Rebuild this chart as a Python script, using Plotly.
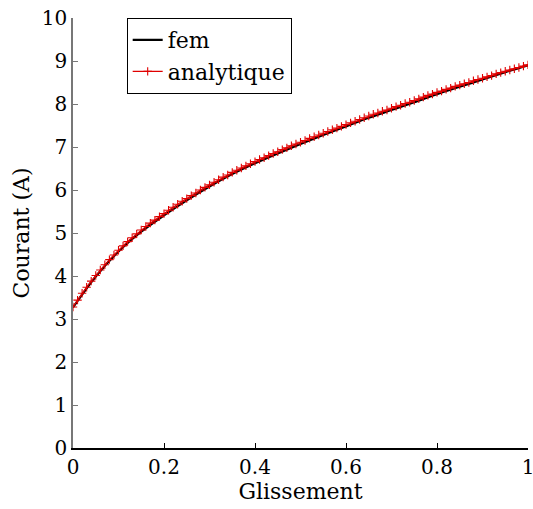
import plotly.graph_objects as go

# Analytique series (x step 0.01)
x_ana = [i / 100 for i in range(101)]
y_ana = [3.28, 3.44, 3.60, 3.74, 3.88, 4.01, 4.14, 4.26, 4.38, 4.49,
         4.60, 4.70, 4.80, 4.89, 4.98, 5.07, 5.15, 5.23, 5.30, 5.38,
         5.45, 5.53, 5.60, 5.67, 5.74, 5.80, 5.87, 5.93, 6.00, 6.06,
         6.12, 6.18, 6.24, 6.30, 6.35, 6.41, 6.46, 6.51, 6.56, 6.61,
         6.66, 6.71, 6.75, 6.80, 6.85, 6.89, 6.94, 6.98, 7.03, 7.07,
         7.11, 7.15, 7.20, 7.24, 7.28, 7.32, 7.36, 7.40, 7.44, 7.48,
         7.52, 7.56, 7.60, 7.64, 7.68, 7.72, 7.76, 7.79, 7.83, 7.86,
         7.90, 7.94, 7.97, 8.01, 8.04, 8.08, 8.12, 8.16, 8.20, 8.23,
         8.27, 8.30, 8.34, 8.37, 8.41, 8.44, 8.47, 8.50, 8.54, 8.57,
         8.60, 8.63, 8.66, 8.70, 8.73, 8.76, 8.79, 8.82, 8.85, 8.88,
         8.91]

# FEM series
x_fem = [0.00, 0.05, 0.10, 0.15, 0.20, 0.25, 0.30, 0.35, 0.40, 0.45, 0.50,
         0.55, 0.60, 0.65, 0.70, 0.75, 0.80, 0.85, 0.90, 0.95, 1.00]
y_fem = [3.27, 3.99, 4.57, 5.03, 5.41, 5.76, 6.08, 6.37, 6.62, 6.85, 7.07,
         7.28, 7.48, 7.68, 7.86, 8.04, 8.23, 8.40, 8.57, 8.74, 8.90]

x_ticks = [0, 0.2, 0.4, 0.6, 0.8, 1]
x_ticklabels = ["0", "0.2", "0.4", "0.6", "0.8", "1"]
y_ticks = list(range(0, 11))

FONT = "DejaVu Serif"

fig = go.Figure()
fig.add_trace(go.Scatter(x=x_fem, y=y_fem, mode="lines", name="fem",
                         line=dict(color="black", width=2.2), line_shape="spline"))
fig.add_trace(go.Scatter(x=x_ana, y=y_ana, mode="lines+markers", name="analytique",
                         line=dict(color="#e00000", width=1.3),
                         marker=dict(symbol="cross-thin", size=6,
                                     line=dict(color="#e00000", width=1.1))))

fig.update_layout(
    width=533, height=509,
    margin=dict(l=73, r=5, t=18, b=61),
    paper_bgcolor="white", plot_bgcolor="white",
    font=dict(family=FONT, color="black", size=20),
    showlegend=True,
    legend=dict(x=0.118, y=1.0, xanchor="left", yanchor="top",
                bordercolor="black", borderwidth=1, bgcolor="white",
                font=dict(family=FONT, size=22), tracegroupgap=0,
                itemwidth=30),
    xaxis=dict(range=[0, 1], tickvals=x_ticks, ticktext=x_ticklabels,
               showgrid=False, zeroline=False, showline=True, automargin=False,
               linecolor="black", linewidth=1.5, ticks="inside", ticklen=5,
               tickcolor="black", tickfont=dict(size=20, family=FONT),
               ticklabeloverflow="allow",
               title=dict(text="Glissement", font=dict(size=22, family=FONT),
                          standoff=0)),
    yaxis=dict(range=[0, 10], tickvals=y_ticks,
               showgrid=False, zeroline=False, showline=True, automargin=False,
               linecolor="#777777", linewidth=1.5, ticks="inside", ticklen=5,
               tickcolor="#777777", tickfont=dict(size=20, family=FONT),
               ticklabeloverflow="allow",
               title=dict(text="Courant (A)", font=dict(size=22, family=FONT),
                          standoff=6)),
)

fig.write_html("out.html")
